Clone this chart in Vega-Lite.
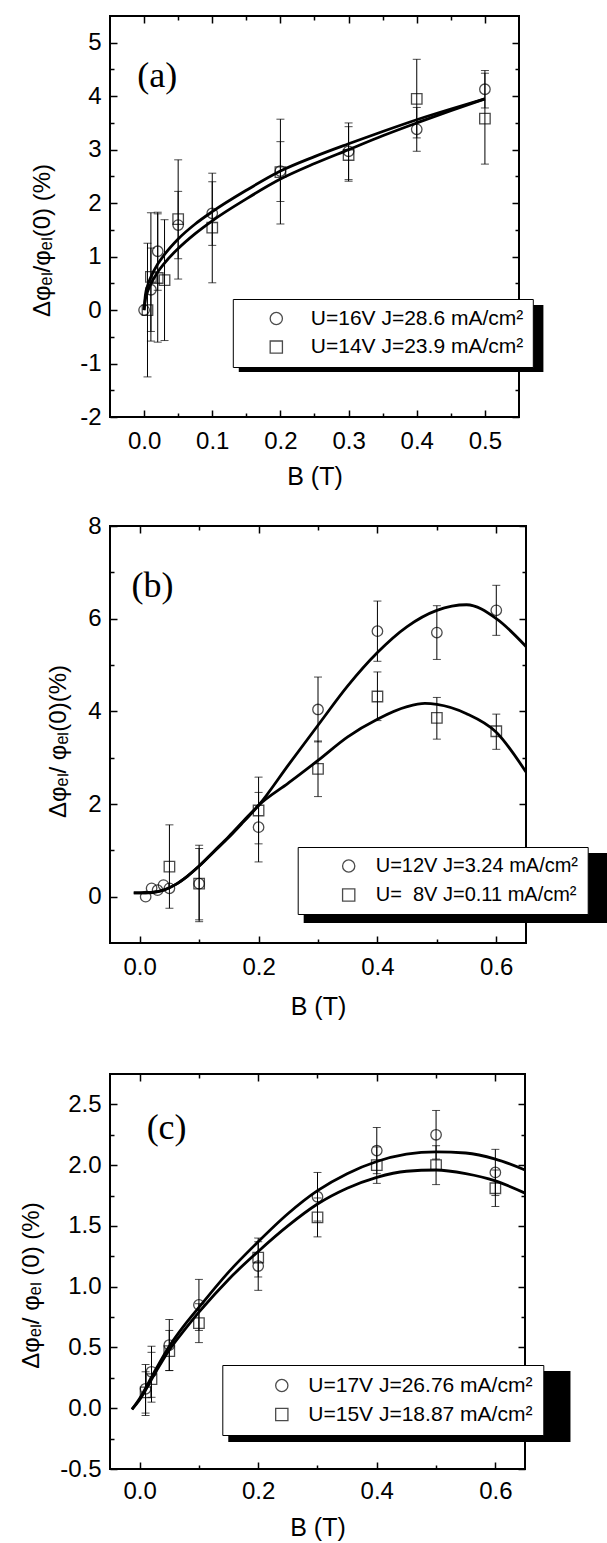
{
  "$schema": "https://vega.github.io/schema/vega-lite/v6.json",
  "padding": {"left": 18, "top": 14, "right": 0, "bottom": 0},
  "config": {
    "font": "Liberation Sans",
    "view": {"stroke": "black", "strokeWidth": 2},
    "axis": {"grid": false, "domain": false, "tickColor": "black", "tickWidth": 1.5, "labelFont": "Liberation Sans", "labelFontSize": 24, "labelColor": "black", "labelFlush": false, "labelOverlap": false, "titleFont": "Liberation Sans", "titleFontSize": 25, "titleFontWeight": "normal", "titleColor": "black"},
    "axisY": {"titleFontSize": 24},
    "legend": {"labelFont": "Liberation Sans", "labelFontSize": 21, "labelColor": "black", "labelLimit": 500, "strokeColor": "black", "fillColor": "white", "symbolSize": 150, "symbolStrokeWidth": 1.3}
  },
  "datasets": {
    "a_pts": [
      {"B": 0, "v": 0, "lo": null, "hi": null, "s": "U=16V J=28.6 mA/cm²"},
      {"B": 0.01, "v": 0.38, "lo": -0.4, "hi": 1.16, "s": "U=16V J=28.6 mA/cm²"},
      {"B": 0.02, "v": 1.1, "lo": 0.37, "hi": 1.83, "s": "U=16V J=28.6 mA/cm²"},
      {"B": 0.05, "v": 1.59, "lo": 0.96, "hi": 2.22, "s": "U=16V J=28.6 mA/cm²"},
      {"B": 0.1, "v": 1.81, "lo": 1.21, "hi": 2.4, "s": "U=16V J=28.6 mA/cm²"},
      {"B": 0.2, "v": 2.6, "lo": 2.03, "hi": 3.15, "s": "U=16V J=28.6 mA/cm²"},
      {"B": 0.3, "v": 2.97, "lo": 2.44, "hi": 3.5, "s": "U=16V J=28.6 mA/cm²"},
      {"B": 0.4, "v": 3.38, "lo": 2.97, "hi": 3.79, "s": "U=16V J=28.6 mA/cm²"},
      {"B": 0.5, "v": 4.13, "lo": 3.78, "hi": 4.48, "s": "U=16V J=28.6 mA/cm²"},
      {"B": 0.005, "v": 0, "lo": -1.25, "hi": 1.25, "s": "U=14V J=23.9 mA/cm²"},
      {"B": 0.01, "v": 0.62, "lo": -0.58, "hi": 1.82, "s": "U=14V J=23.9 mA/cm²"},
      {"B": 0.02, "v": 0.6, "lo": -0.6, "hi": 1.8, "s": "U=14V J=23.9 mA/cm²"},
      {"B": 0.03, "v": 0.56, "lo": -0.57, "hi": 1.69, "s": "U=14V J=23.9 mA/cm²"},
      {"B": 0.05, "v": 1.7, "lo": 0.58, "hi": 2.81, "s": "U=14V J=23.9 mA/cm²"},
      {"B": 0.1, "v": 1.54, "lo": 0.51, "hi": 2.56, "s": "U=14V J=23.9 mA/cm²"},
      {"B": 0.2, "v": 2.58, "lo": 1.61, "hi": 3.57, "s": "U=14V J=23.9 mA/cm²"},
      {"B": 0.3, "v": 2.9, "lo": 2.41, "hi": 3.43, "s": "U=14V J=23.9 mA/cm²"},
      {"B": 0.4, "v": 3.95, "lo": 3.22, "hi": 4.69, "s": "U=14V J=23.9 mA/cm²"},
      {"B": 0.5, "v": 3.58, "lo": 2.73, "hi": 4.43, "s": "U=14V J=23.9 mA/cm²"}
    ],
    "a_fit": [
      {"B": 0, "v": 0, "s": "a1"}, {"B": 0.002, "v": 0.29, "s": "a1"}, {"B": 0.005, "v": 0.45, "s": "a1"}, {"B": 0.01, "v": 0.62, "s": "a1"}, {"B": 0.02, "v": 0.86, "s": "a1"}, {"B": 0.03, "v": 1.04, "s": "a1"}, {"B": 0.05, "v": 1.33, "s": "a1"}, {"B": 0.075, "v": 1.61, "s": "a1"}, {"B": 0.1, "v": 1.84, "s": "a1"}, {"B": 0.15, "v": 2.24, "s": "a1"}, {"B": 0.2, "v": 2.6, "s": "a1"}, {"B": 0.25, "v": 2.87, "s": "a1"}, {"B": 0.3, "v": 3.11, "s": "a1"}, {"B": 0.35, "v": 3.34, "s": "a1"}, {"B": 0.4, "v": 3.56, "s": "a1"}, {"B": 0.45, "v": 3.76, "s": "a1"}, {"B": 0.5, "v": 3.95, "s": "a1"},
      {"B": 0, "v": 0, "s": "a2"}, {"B": 0.002, "v": 0.21, "s": "a2"}, {"B": 0.005, "v": 0.34, "s": "a2"}, {"B": 0.01, "v": 0.49, "s": "a2"}, {"B": 0.02, "v": 0.71, "s": "a2"}, {"B": 0.03, "v": 0.88, "s": "a2"}, {"B": 0.05, "v": 1.15, "s": "a2"}, {"B": 0.075, "v": 1.43, "s": "a2"}, {"B": 0.1, "v": 1.67, "s": "a2"}, {"B": 0.15, "v": 2.08, "s": "a2"}, {"B": 0.2, "v": 2.45, "s": "a2"}, {"B": 0.25, "v": 2.74, "s": "a2"}, {"B": 0.3, "v": 3.0, "s": "a2"}, {"B": 0.35, "v": 3.26, "s": "a2"}, {"B": 0.4, "v": 3.5, "s": "a2"}, {"B": 0.45, "v": 3.73, "s": "a2"}, {"B": 0.5, "v": 3.95, "s": "a2"}
    ],
    "b_pts": [
      {"B": 0.01, "v": 0.0, "lo": null, "hi": null, "s": "U=12V J=3.24 mA/cm²"},
      {"B": 0.02, "v": 0.18, "lo": null, "hi": null, "s": "U=12V J=3.24 mA/cm²"},
      {"B": 0.03, "v": 0.14, "lo": null, "hi": null, "s": "U=12V J=3.24 mA/cm²"},
      {"B": 0.04, "v": 0.25, "lo": null, "hi": null, "s": "U=12V J=3.24 mA/cm²"},
      {"B": 0.05, "v": 0.18, "lo": null, "hi": null, "s": "U=12V J=3.24 mA/cm²"},
      {"B": 0.1, "v": 0.28, "lo": -0.5, "hi": 1.04, "s": "U=12V J=3.24 mA/cm²"},
      {"B": 0.2, "v": 1.5, "lo": 0.75, "hi": 2.25, "s": "U=12V J=3.24 mA/cm²"},
      {"B": 0.3, "v": 4.04, "lo": 3.34, "hi": 4.74, "s": "U=12V J=3.24 mA/cm²"},
      {"B": 0.4, "v": 5.73, "lo": 5.08, "hi": 6.38, "s": "U=12V J=3.24 mA/cm²"},
      {"B": 0.5, "v": 5.7, "lo": 5.12, "hi": 6.28, "s": "U=12V J=3.24 mA/cm²"},
      {"B": 0.6, "v": 6.18, "lo": 5.64, "hi": 6.72, "s": "U=12V J=3.24 mA/cm²"},
      {"B": 0.05, "v": 0.65, "lo": -0.25, "hi": 1.55, "s": "U=\u00a0\u00a08V J=0.11 mA/cm²"},
      {"B": 0.1, "v": 0.28, "lo": -0.54, "hi": 1.11, "s": "U=\u00a0\u00a08V J=0.11 mA/cm²"},
      {"B": 0.2, "v": 1.86, "lo": 1.14, "hi": 2.58, "s": "U=\u00a0\u00a08V J=0.11 mA/cm²"},
      {"B": 0.3, "v": 2.76, "lo": 2.16, "hi": 3.36, "s": "U=\u00a0\u00a08V J=0.11 mA/cm²"},
      {"B": 0.4, "v": 4.32, "lo": 3.8, "hi": 4.85, "s": "U=\u00a0\u00a08V J=0.11 mA/cm²"},
      {"B": 0.5, "v": 3.86, "lo": 3.4, "hi": 4.3, "s": "U=\u00a0\u00a08V J=0.11 mA/cm²"},
      {"B": 0.6, "v": 3.57, "lo": 3.18, "hi": 3.94, "s": "U=\u00a0\u00a08V J=0.11 mA/cm²"}
    ],
    "b_fit": [
      {"B": -0.01, "v": 0.08, "s": "b1"}, {"B": 0, "v": 0.08, "s": "b1"}, {"B": 0.02, "v": 0.09, "s": "b1"}, {"B": 0.04, "v": 0.14, "s": "b1"}, {"B": 0.06, "v": 0.26, "s": "b1"}, {"B": 0.08, "v": 0.44, "s": "b1"}, {"B": 0.1, "v": 0.66, "s": "b1"}, {"B": 0.125, "v": 0.97, "s": "b1"}, {"B": 0.15, "v": 1.28, "s": "b1"}, {"B": 0.175, "v": 1.62, "s": "b1"}, {"B": 0.2, "v": 1.97, "s": "b1"}, {"B": 0.25, "v": 2.84, "s": "b1"}, {"B": 0.3, "v": 3.7, "s": "b1"}, {"B": 0.35, "v": 4.55, "s": "b1"}, {"B": 0.4, "v": 5.27, "s": "b1"}, {"B": 0.45, "v": 5.83, "s": "b1"}, {"B": 0.5, "v": 6.18, "s": "b1"}, {"B": 0.55, "v": 6.3, "s": "b1"}, {"B": 0.6, "v": 6.0, "s": "b1"}, {"B": 0.65, "v": 5.4, "s": "b1"},
      {"B": -0.01, "v": 0.08, "s": "b2"}, {"B": 0, "v": 0.08, "s": "b2"}, {"B": 0.02, "v": 0.09, "s": "b2"}, {"B": 0.04, "v": 0.14, "s": "b2"}, {"B": 0.06, "v": 0.26, "s": "b2"}, {"B": 0.08, "v": 0.44, "s": "b2"}, {"B": 0.1, "v": 0.66, "s": "b2"}, {"B": 0.125, "v": 0.98, "s": "b2"}, {"B": 0.15, "v": 1.3, "s": "b2"}, {"B": 0.175, "v": 1.64, "s": "b2"}, {"B": 0.2, "v": 1.97, "s": "b2"}, {"B": 0.25, "v": 2.45, "s": "b2"}, {"B": 0.3, "v": 2.94, "s": "b2"}, {"B": 0.35, "v": 3.45, "s": "b2"}, {"B": 0.4, "v": 3.83, "s": "b2"}, {"B": 0.45, "v": 4.1, "s": "b2"}, {"B": 0.48, "v": 4.17, "s": "b2"}, {"B": 0.5, "v": 4.15, "s": "b2"}, {"B": 0.55, "v": 3.95, "s": "b2"}, {"B": 0.6, "v": 3.55, "s": "b2"}, {"B": 0.65, "v": 2.69, "s": "b2"}
    ],
    "c_pts": [
      {"B": 0.01, "v": 0.16, "lo": -0.04, "hi": 0.36, "s": "U=17V J=26.76 mA/cm²"},
      {"B": 0.02, "v": 0.3, "lo": 0.09, "hi": 0.51, "s": "U=17V J=26.76 mA/cm²"},
      {"B": 0.05, "v": 0.52, "lo": 0.31, "hi": 0.73, "s": "U=17V J=26.76 mA/cm²"},
      {"B": 0.1, "v": 0.85, "lo": 0.64, "hi": 1.06, "s": "U=17V J=26.76 mA/cm²"},
      {"B": 0.2, "v": 1.17, "lo": 0.97, "hi": 1.37, "s": "U=17V J=26.76 mA/cm²"},
      {"B": 0.3, "v": 1.74, "lo": 1.54, "hi": 1.94, "s": "U=17V J=26.76 mA/cm²"},
      {"B": 0.4, "v": 2.12, "lo": 1.93, "hi": 2.31, "s": "U=17V J=26.76 mA/cm²"},
      {"B": 0.5, "v": 2.25, "lo": 2.05, "hi": 2.45, "s": "U=17V J=26.76 mA/cm²"},
      {"B": 0.6, "v": 1.94, "lo": 1.75, "hi": 2.13, "s": "U=17V J=26.76 mA/cm²"},
      {"B": 0.01, "v": 0.13, "lo": -0.06, "hi": 0.3, "s": "U=15V J=18.87 mA/cm²"},
      {"B": 0.02, "v": 0.24, "lo": 0.05, "hi": 0.46, "s": "U=15V J=18.87 mA/cm²"},
      {"B": 0.05, "v": 0.47, "lo": 0.31, "hi": 0.64, "s": "U=15V J=18.87 mA/cm²"},
      {"B": 0.1, "v": 0.7, "lo": 0.54, "hi": 0.86, "s": "U=15V J=18.87 mA/cm²"},
      {"B": 0.2, "v": 1.24, "lo": 1.08, "hi": 1.4, "s": "U=15V J=18.87 mA/cm²"},
      {"B": 0.3, "v": 1.57, "lo": 1.41, "hi": 1.73, "s": "U=15V J=18.87 mA/cm²"},
      {"B": 0.4, "v": 2.0, "lo": 1.85, "hi": 2.15, "s": "U=15V J=18.87 mA/cm²"},
      {"B": 0.5, "v": 2.0, "lo": 1.84, "hi": 2.16, "s": "U=15V J=18.87 mA/cm²"},
      {"B": 0.6, "v": 1.81, "lo": 1.66, "hi": 1.96, "s": "U=15V J=18.87 mA/cm²"}
    ],
    "c_fit": [
      {"B": -0.013, "v": -0.01, "s": "c1"}, {"B": 0, "v": 0.08, "s": "c1"}, {"B": 0.025, "v": 0.3, "s": "c1"}, {"B": 0.05, "v": 0.51, "s": "c1"}, {"B": 0.075, "v": 0.68, "s": "c1"}, {"B": 0.1, "v": 0.83, "s": "c1"}, {"B": 0.15, "v": 1.12, "s": "c1"}, {"B": 0.2, "v": 1.37, "s": "c1"}, {"B": 0.25, "v": 1.6, "s": "c1"}, {"B": 0.3, "v": 1.79, "s": "c1"}, {"B": 0.35, "v": 1.93, "s": "c1"}, {"B": 0.4, "v": 2.03, "s": "c1"}, {"B": 0.45, "v": 2.09, "s": "c1"}, {"B": 0.5, "v": 2.11, "s": "c1"}, {"B": 0.55, "v": 2.1, "s": "c1"}, {"B": 0.6, "v": 2.05, "s": "c1"}, {"B": 0.65, "v": 1.96, "s": "c1"},
      {"B": -0.013, "v": -0.01, "s": "c2"}, {"B": 0, "v": 0.07, "s": "c2"}, {"B": 0.025, "v": 0.28, "s": "c2"}, {"B": 0.05, "v": 0.48, "s": "c2"}, {"B": 0.075, "v": 0.64, "s": "c2"}, {"B": 0.1, "v": 0.79, "s": "c2"}, {"B": 0.15, "v": 1.06, "s": "c2"}, {"B": 0.2, "v": 1.29, "s": "c2"}, {"B": 0.25, "v": 1.5, "s": "c2"}, {"B": 0.3, "v": 1.68, "s": "c2"}, {"B": 0.35, "v": 1.81, "s": "c2"}, {"B": 0.4, "v": 1.9, "s": "c2"}, {"B": 0.45, "v": 1.95, "s": "c2"}, {"B": 0.5, "v": 1.96, "s": "c2"}, {"B": 0.55, "v": 1.93, "s": "c2"}, {"B": 0.6, "v": 1.87, "s": "c2"}, {"B": 0.65, "v": 1.77, "s": "c2"}
    ]
  },
  "spacing": 52,
  "resolve": {"scale": {"x": "independent", "y": "independent", "shape": "independent"}, "legend": {"shape": "independent"}},
  "vconcat": [
    {
      "spacing": 23,
      "resolve": {"scale": {"x": "independent", "y": "independent", "shape": "independent"}, "legend": {"shape": "independent"}},
      "vconcat": [
        {
          "width": 409, "height": 401,
          "resolve": {"axis": {"x": "independent", "y": "independent"}},
          "layer": [
            {
              "data": {"values": [{}]},
              "mark": {"type": "rect", "color": "black"},
              "encoding": {
                "x": {"datum": 0.1389, "type": "quantitative", "scale": {"domain": [-0.05, 0.55], "nice": false, "zero": false}, "axis": null},
                "x2": {"datum": 0.5858},
                "y": {"datum": 0.095, "type": "quantitative", "scale": {"domain": [-2, 5.5], "nice": false, "zero": false}, "axis": null},
                "y2": {"datum": -1.158}
              }
            },
            {
              "data": {"name": "a_fit"},
              "mark": {"type": "line", "color": "black", "strokeWidth": 2.8, "interpolate": "monotone"},
              "encoding": {
                "x": {"field": "B", "type": "quantitative", "scale": {"domain": [-0.05, 0.55], "nice": false, "zero": false}, "axis": {"orient": "bottom", "values": [0, 0.1, 0.2, 0.3, 0.4, 0.5], "format": ".1f", "tickSize": -7, "labelPadding": 19, "title": "B (T)", "titlePadding": 11}},
                "y": {"field": "v", "type": "quantitative", "scale": {"domain": [-2, 5.5], "nice": false, "zero": false}, "axis": {"orient": "left", "values": [-2, -1, 0, 1, 2, 3, 4, 5], "labelExpr": "datum.value < 0 ? '-' + format(-datum.value, 'd') : format(datum.value, 'd')", "tickSize": -7, "labelPadding": 16, "title": "Δφₑₗ/φₑₗ(0) (%)", "titleX": -56, "titleY": 224}},
                "detail": {"field": "s", "type": "nominal"}
              }
            },
            {
              "data": {"name": "a_pts"},
              "transform": [{"filter": "datum.lo != null"}],
              "mark": {"type": "rule", "color": "black", "strokeWidth": 1},
              "encoding": {
                "x": {"field": "B", "type": "quantitative", "scale": {"domain": [-0.05, 0.55], "nice": false, "zero": false}, "axis": {"orient": "bottom", "values": [0.05, 0.15, 0.25, 0.35, 0.45], "labels": false, "tickSize": -4, "title": null}},
                "y": {"field": "lo", "type": "quantitative", "scale": {"domain": [-2, 5.5], "nice": false, "zero": false}, "axis": {"orient": "left", "values": [-1.5, -0.5, 0.5, 1.5, 2.5, 3.5, 4.5], "labels": false, "tickSize": -4, "title": null}},
                "y2": {"field": "hi"}
              }
            },
            {
              "data": {"name": "a_pts"},
              "transform": [{"filter": "datum.lo != null"}],
              "mark": {"type": "tick", "orient": "horizontal", "size": 8, "thickness": 1, "color": "black"},
              "encoding": {
                "x": {"field": "B", "type": "quantitative", "scale": {"domain": [-0.05, 0.55], "nice": false, "zero": false}, "axis": {"orient": "top", "values": [0, 0.1, 0.2, 0.3, 0.4, 0.5], "labels": false, "tickSize": -7, "title": null}},
                "y": {"field": "hi", "type": "quantitative", "scale": {"domain": [-2, 5.5], "nice": false, "zero": false}, "axis": {"orient": "right", "values": [-2, -1, 0, 1, 2, 3, 4, 5], "labels": false, "tickSize": -7, "title": null}}
              }
            },
            {
              "data": {"name": "a_pts"},
              "transform": [{"filter": "datum.lo != null"}],
              "mark": {"type": "tick", "orient": "horizontal", "size": 8, "thickness": 1, "color": "black"},
              "encoding": {
                "x": {"field": "B", "type": "quantitative", "scale": {"domain": [-0.05, 0.55], "nice": false, "zero": false}, "axis": {"orient": "top", "values": [0.05, 0.15, 0.25, 0.35, 0.45], "labels": false, "tickSize": -4, "title": null}},
                "y": {"field": "lo", "type": "quantitative", "scale": {"domain": [-2, 5.5], "nice": false, "zero": false}, "axis": {"orient": "right", "values": [-1.5, -0.5, 0.5, 1.5, 2.5, 3.5, 4.5], "labels": false, "tickSize": -4, "title": null}}
              }
            },
            {
              "data": {"name": "a_pts"},
              "mark": {"type": "point", "filled": false, "color": "black", "strokeWidth": 1.3, "size": 110},
              "encoding": {
                "x": {"field": "B", "type": "quantitative", "scale": {"domain": [-0.05, 0.55], "nice": false, "zero": false}, "axis": null},
                "y": {"field": "v", "type": "quantitative", "scale": {"domain": [-2, 5.5], "nice": false, "zero": false}, "axis": null},
                "shape": {"field": "s", "type": "nominal", "scale": {"domain": ["U=16V J=28.6 mA/cm²", "U=14V J=23.9 mA/cm²"], "range": ["circle", "square"]},
                  "legend": {"orient": "none", "legendX": 122.8, "legendY": 283, "title": null, "padding": 9, "symbolOffset": 24, "labelOffset": 24, "rowPadding": 6.6, "labelExpr": "datum.label + '\u00a0\u00a0'"}}
              }
            },
            {
              "data": {"values": [{}]},
              "mark": {"type": "text", "text": "(a)", "font": "Liberation Serif", "fontSize": 36, "align": "center", "baseline": "middle", "color": "black"},
              "encoding": {
                "x": {"datum": 0.0194, "type": "quantitative", "scale": {"domain": [-0.05, 0.55], "nice": false, "zero": false}, "axis": null},
                "y": {"datum": 4.378, "type": "quantitative", "scale": {"domain": [-2, 5.5], "nice": false, "zero": false}, "axis": null}
              }
            }
          ]
        },
        {
          "width": 416, "height": 417,
          "resolve": {"axis": {"x": "independent", "y": "independent"}},
          "layer": [
            {
              "data": {"values": [{}]},
              "mark": {"type": "rect", "color": "black"},
              "encoding": {
                "x": {"datum": 0.2759, "type": "quantitative", "scale": {"domain": [-0.05, 0.65], "nice": false, "zero": false}, "axis": null},
                "x2": {"datum": 0.795},
                "y": {"datum": 0.943, "type": "quantitative", "scale": {"domain": [-1, 8], "nice": false, "zero": false}, "axis": null},
                "y2": {"datum": -0.568}
              }
            },
            {
              "data": {"name": "b_fit"},
              "mark": {"type": "line", "color": "black", "strokeWidth": 2.8, "interpolate": "monotone"},
              "encoding": {
                "x": {"field": "B", "type": "quantitative", "scale": {"domain": [-0.05, 0.65], "nice": false, "zero": false}, "axis": {"orient": "bottom", "values": [0, 0.2, 0.4, 0.6], "format": ".1f", "tickSize": -7, "labelPadding": 19, "title": "B (T)", "titlePadding": 15}},
                "y": {"field": "v", "type": "quantitative", "scale": {"domain": [-1, 8], "nice": false, "zero": false}, "axis": {"orient": "left", "values": [0, 2, 4, 6, 8], "format": "d", "tickSize": -7, "labelPadding": 16, "title": "Δφₑₗ/ φₑₗ(0)(%)", "titleX": -40, "titleY": 215}},
                "detail": {"field": "s", "type": "nominal"}
              }
            },
            {
              "data": {"name": "b_pts"},
              "transform": [{"filter": "datum.lo != null"}],
              "mark": {"type": "rule", "color": "black", "strokeWidth": 1},
              "encoding": {
                "x": {"field": "B", "type": "quantitative", "scale": {"domain": [-0.05, 0.65], "nice": false, "zero": false}, "axis": {"orient": "bottom", "values": [0.1, 0.3, 0.5], "labels": false, "tickSize": -4, "title": null}},
                "y": {"field": "lo", "type": "quantitative", "scale": {"domain": [-1, 8], "nice": false, "zero": false}, "axis": {"orient": "left", "values": [1, 3, 5, 7], "labels": false, "tickSize": -4, "title": null}},
                "y2": {"field": "hi"}
              }
            },
            {
              "data": {"name": "b_pts"},
              "transform": [{"filter": "datum.lo != null"}],
              "mark": {"type": "tick", "orient": "horizontal", "size": 8, "thickness": 1, "color": "black"},
              "encoding": {
                "x": {"field": "B", "type": "quantitative", "scale": {"domain": [-0.05, 0.65], "nice": false, "zero": false}, "axis": {"orient": "top", "values": [0, 0.2, 0.4, 0.6], "labels": false, "tickSize": -7, "title": null}},
                "y": {"field": "hi", "type": "quantitative", "scale": {"domain": [-1, 8], "nice": false, "zero": false}, "axis": {"orient": "right", "values": [0, 2, 4, 6, 8], "labels": false, "tickSize": -7, "title": null}}
              }
            },
            {
              "data": {"name": "b_pts"},
              "transform": [{"filter": "datum.lo != null"}],
              "mark": {"type": "tick", "orient": "horizontal", "size": 8, "thickness": 1, "color": "black"},
              "encoding": {
                "x": {"field": "B", "type": "quantitative", "scale": {"domain": [-0.05, 0.65], "nice": false, "zero": false}, "axis": {"orient": "top", "values": [0.1, 0.3, 0.5], "labels": false, "tickSize": -4, "title": null}},
                "y": {"field": "lo", "type": "quantitative", "scale": {"domain": [-1, 8], "nice": false, "zero": false}, "axis": {"orient": "right", "values": [1, 3, 5, 7], "labels": false, "tickSize": -4, "title": null}}
              }
            },
            {
              "data": {"name": "b_pts"},
              "mark": {"type": "point", "filled": false, "color": "black", "strokeWidth": 1.3, "size": 110},
              "encoding": {
                "x": {"field": "B", "type": "quantitative", "scale": {"domain": [-0.05, 0.65], "nice": false, "zero": false}, "axis": null},
                "y": {"field": "v", "type": "quantitative", "scale": {"domain": [-1, 8], "nice": false, "zero": false}, "axis": null},
                "shape": {"field": "s", "type": "nominal", "scale": {"domain": ["U=12V J=3.24 mA/cm²", "U=\u00a0\u00a08V J=0.11 mA/cm²"], "range": ["circle", "square"]},
                  "legend": {"orient": "none", "legendX": 187.7, "legendY": 321, "title": null, "padding": 9, "symbolOffset": 32, "labelOffset": 17, "rowPadding": 9, "labelFontSize": 20, "labelExpr": "datum.label + '\u00a0\u00a0\u00a0\u00a0\u00a0'"}}
              }
            },
            {
              "data": {"values": [{}]},
              "mark": {"type": "text", "text": "(b)", "font": "Liberation Serif", "fontSize": 36, "align": "center", "baseline": "middle", "color": "black"},
              "encoding": {
                "x": {"datum": 0.0213, "type": "quantitative", "scale": {"domain": [-0.05, 0.65], "nice": false, "zero": false}, "axis": null},
                "y": {"datum": 6.705, "type": "quantitative", "scale": {"domain": [-1, 8], "nice": false, "zero": false}, "axis": null}
              }
            }
          ]
        }
      ]
    },
    {
      "width": 415, "height": 395,
      "resolve": {"axis": {"x": "independent", "y": "independent"}},
      "layer": [
        {
          "data": {"values": [{}]},
          "mark": {"type": "rect", "color": "black"},
          "encoding": {
            "x": {"datum": 0.1495, "type": "quantitative", "scale": {"domain": [-0.05, 0.65], "nice": false, "zero": false}, "axis": null},
            "x2": {"datum": 0.7267},
            "y": {"datum": 0.3064, "type": "quantitative", "scale": {"domain": [-0.5, 2.75], "nice": false, "zero": false}, "axis": null},
            "y2": {"datum": -0.278}
          }
        },
        {
          "data": {"name": "c_fit"},
          "mark": {"type": "line", "color": "black", "strokeWidth": 2.8, "interpolate": "monotone"},
          "encoding": {
            "x": {"field": "B", "type": "quantitative", "scale": {"domain": [-0.05, 0.65], "nice": false, "zero": false}, "axis": {"orient": "bottom", "values": [0, 0.2, 0.4, 0.6], "format": ".1f", "tickSize": -7, "labelPadding": 17, "title": "B (T)", "titlePadding": 12}},
            "y": {"field": "v", "type": "quantitative", "scale": {"domain": [-0.5, 2.75], "nice": false, "zero": false}, "axis": {"orient": "left", "values": [-0.5, 0, 0.5, 1, 1.5, 2, 2.5], "labelExpr": "datum.value < 0 ? '-' + format(-datum.value, '.1f') : format(datum.value, '.1f')", "tickSize": -7, "labelPadding": 16, "title": "Δφₑₗ/ φₑₗ (0) (%)", "titleX": -67, "titleY": 211}},
            "detail": {"field": "s", "type": "nominal"}
          }
        },
        {
          "data": {"name": "c_pts"},
          "transform": [{"filter": "datum.lo != null"}],
          "mark": {"type": "rule", "color": "black", "strokeWidth": 1},
          "encoding": {
            "x": {"field": "B", "type": "quantitative", "scale": {"domain": [-0.05, 0.65], "nice": false, "zero": false}, "axis": {"orient": "bottom", "values": [0.1, 0.3, 0.5], "labels": false, "tickSize": -4, "title": null}},
            "y": {"field": "lo", "type": "quantitative", "scale": {"domain": [-0.5, 2.75], "nice": false, "zero": false}, "axis": {"orient": "left", "values": [-0.25, 0.25, 0.75, 1.25, 1.75, 2.25], "labels": false, "tickSize": -4, "title": null}},
            "y2": {"field": "hi"}
          }
        },
        {
          "data": {"name": "c_pts"},
          "transform": [{"filter": "datum.lo != null"}],
          "mark": {"type": "tick", "orient": "horizontal", "size": 8, "thickness": 1, "color": "black"},
          "encoding": {
            "x": {"field": "B", "type": "quantitative", "scale": {"domain": [-0.05, 0.65], "nice": false, "zero": false}, "axis": {"orient": "top", "values": [0, 0.2, 0.4, 0.6], "labels": false, "tickSize": -7, "title": null}},
            "y": {"field": "hi", "type": "quantitative", "scale": {"domain": [-0.5, 2.75], "nice": false, "zero": false}, "axis": {"orient": "right", "values": [-0.5, 0, 0.5, 1, 1.5, 2, 2.5], "labels": false, "tickSize": -7, "title": null}}
          }
        },
        {
          "data": {"name": "c_pts"},
          "transform": [{"filter": "datum.lo != null"}],
          "mark": {"type": "tick", "orient": "horizontal", "size": 8, "thickness": 1, "color": "black"},
          "encoding": {
            "x": {"field": "B", "type": "quantitative", "scale": {"domain": [-0.05, 0.65], "nice": false, "zero": false}, "axis": {"orient": "top", "values": [0.1, 0.3, 0.5], "labels": false, "tickSize": -4, "title": null}},
            "y": {"field": "lo", "type": "quantitative", "scale": {"domain": [-0.5, 2.75], "nice": false, "zero": false}, "axis": {"orient": "right", "values": [-0.25, 0.25, 0.75, 1.25, 1.75, 2.25], "labels": false, "tickSize": -4, "title": null}}
          }
        },
        {
          "data": {"name": "c_pts"},
          "mark": {"type": "point", "filled": false, "color": "black", "strokeWidth": 1.3, "size": 110},
          "encoding": {
            "x": {"field": "B", "type": "quantitative", "scale": {"domain": [-0.05, 0.65], "nice": false, "zero": false}, "axis": null},
            "y": {"field": "v", "type": "quantitative", "scale": {"domain": [-0.5, 2.75], "nice": false, "zero": false}, "axis": null},
            "shape": {"field": "s", "type": "nominal", "scale": {"domain": ["U=17V J=26.76 mA/cm²", "U=15V J=18.87 mA/cm²"], "range": ["circle", "square"]},
              "legend": {"orient": "none", "legendX": 112.3, "legendY": 291, "title": null, "padding": 10, "symbolOffset": 39, "labelOffset": 16, "rowPadding": 7, "labelExpr": "datum.label + '\u00a0\u00a0\u00a0\u00a0\u00a0'"}}
          }
        },
        {
          "data": {"values": [{}]},
          "mark": {"type": "text", "text": "(c)", "font": "Liberation Serif", "fontSize": 36, "align": "center", "baseline": "middle", "color": "black"},
          "encoding": {
            "x": {"datum": 0.0455, "type": "quantitative", "scale": {"domain": [-0.05, 0.65], "nice": false, "zero": false}, "axis": null},
            "y": {"datum": 2.306, "type": "quantitative", "scale": {"domain": [-0.5, 2.75], "nice": false, "zero": false}, "axis": null}
          }
        }
      ]
    }
  ]
}
